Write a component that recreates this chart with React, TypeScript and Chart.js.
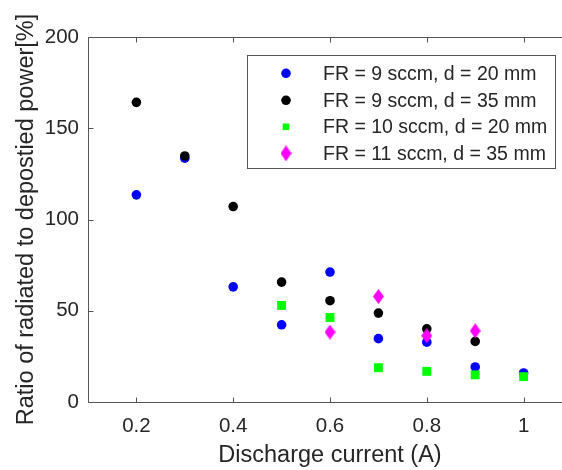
import React, { useEffect, useRef } from 'react';
import { Chart, registerables } from 'chart.js';

Chart.register(...registerables);

// ---- data ----
const seriesLabels = [
  'FR = 9 sccm, d = 20 mm',
  'FR = 9 sccm, d = 35 mm',
  'FR = 10 sccm, d = 20 mm',
  'FR = 11 sccm, d = 35 mm',
];
const xBlue = [0.2, 0.3, 0.4, 0.5, 0.6, 0.7, 0.8, 0.9, 1.0];
const yBlue = [113.5, 133.6, 63.1, 42.3, 71.2, 34.7, 32.8, 19.2, 15.9];
const xBlack = [0.2, 0.3, 0.4, 0.5, 0.6, 0.7, 0.8, 0.9];
const yBlack = [164.2, 134.8, 107.1, 65.7, 55.5, 48.7, 40.1, 33.2];
const xGreen = [0.5, 0.6, 0.7, 0.8, 0.9, 1.0];
const yGreen = [52.9, 46.3, 18.8, 16.8, 14.9, 13.9];
const xMagenta = [0.6, 0.7, 0.8, 0.9];
const yMagenta = [38.3, 57.8, 36.3, 39.0];
const xTickValues = [0.2, 0.4, 0.6, 0.8, 1];
const yTickValues = [0, 50, 100, 150, 200];
const xTitle = 'Discharge current (A)';
const yTitle = 'Ratio of radiated to depostied power[%]';

const W = 580;
const H = 470;
const FONT = "'Liberation Sans', Arial, Helvetica, sans-serif";
const TEXT = '#262626';
const AXIS = '#555555';

function pts(xs: number[], ys: number[]) {
  return xs.map((x, i) => ({ x, y: ys[i] }));
}

function makeDiamond(): HTMLCanvasElement {
  const c = document.createElement('canvas');
  c.width = 11;
  c.height = 15;
  const g = c.getContext('2d')!;
  g.fillStyle = '#ff00ff';
  g.beginPath();
  g.moveTo(5.5, 0);
  g.lineTo(11, 7.5);
  g.lineTo(5.5, 15);
  g.lineTo(0, 7.5);
  g.closePath();
  g.fill();
  return c;
}

export default function App() {
  const ref = useRef<HTMLCanvasElement>(null);

  useEffect(() => {
    document.documentElement.style.overflow = 'hidden';
    document.body.style.margin = '0';
    document.body.style.overflow = 'hidden';
    const diamond = makeDiamond();

    const framePlugin = {
      id: 'frame',
      beforeDatasetsDraw(chart: any) {
        const { ctx, chartArea } = chart;
        const xs = chart.scales.x;
        const ys = chart.scales.y;
        const L = Math.round(chartArea.left) + 0.5;
        const R = Math.round(chartArea.right) + 0.5;
        const T = Math.round(chartArea.top) + 0.5;
        const B = Math.round(chartArea.bottom) + 0.5;
        ctx.save();
        ctx.strokeStyle = AXIS;
        ctx.lineWidth = 1;
        ctx.beginPath();
        ctx.moveTo(L, T);
        ctx.lineTo(R, T);
        ctx.lineTo(R, B);
        ctx.lineTo(L, B);
        ctx.closePath();
        const tl = 5;
        xTickValues.forEach((v) => {
          const px = Math.round(xs.getPixelForValue(v)) + 0.5;
          ctx.moveTo(px, B);
          ctx.lineTo(px, B - tl);
          ctx.moveTo(px, T);
          ctx.lineTo(px, T + tl);
        });
        yTickValues.forEach((v) => {
          const py = Math.round(ys.getPixelForValue(v)) + 0.5;
          ctx.moveTo(L, py);
          ctx.lineTo(L + tl, py);
          ctx.moveTo(R, py);
          ctx.lineTo(R - tl, py);
        });
        ctx.stroke();
        ctx.restore();
      },
    };

    const legendPlugin = {
      id: 'customLegend',
      afterDraw(chart: any) {
        const { ctx } = chart;
        const bx = 247.5, by = 55.5, bw = 308, bh = 113;
        ctx.save();
        ctx.fillStyle = '#ffffff';
        ctx.fillRect(bx, by, bw, bh);
        ctx.strokeStyle = AXIS;
        ctx.lineWidth = 1;
        ctx.strokeRect(bx, by, bw, bh);
        const rows = [73.3, 100.3, 126.8, 153.3];
        const mx = 286;
        const tx = 323;
        ctx.font = `19.5px ${FONT}`;
        ctx.textBaseline = 'middle';
        ctx.textAlign = 'left';
        rows.forEach((ry, i) => {
          if (i === 0 || i === 1) {
            ctx.fillStyle = i === 0 ? '#0000ff' : '#000000';
            ctx.beginPath();
            ctx.arc(mx, ry, 4.8, 0, Math.PI * 2);
            ctx.fill();
          } else if (i === 2) {
            ctx.fillStyle = '#00ff00';
            ctx.fillRect(mx - 3.3, ry - 3.3, 6.6, 6.6);
          } else {
            ctx.drawImage(diamond, mx - 5.5, ry - 8, 11, 16);
          }
          ctx.fillStyle = TEXT;
          ctx.fillText(seriesLabels[i], tx, ry + 1);
        });
        ctx.restore();
      },
    };

    const chart = new Chart(ref.current!, {
      type: 'scatter',
      data: {
        datasets: [
          {
            label: seriesLabels[0],
            data: pts(xBlue, yBlue),
            backgroundColor: '#0000ff',
            borderColor: '#0000ff',
            borderWidth: 0,
            pointRadius: 4.8,
            pointStyle: 'circle',
            order: 3,
          },
          {
            label: seriesLabels[1],
            data: pts(xBlack, yBlack),
            backgroundColor: '#000000',
            borderColor: '#000000',
            borderWidth: 0,
            pointRadius: 4.8,
            pointStyle: 'circle',
            order: 2,
          },
          {
            label: seriesLabels[2],
            data: pts(xGreen, yGreen),
            backgroundColor: '#00ff00',
            borderColor: '#00ff00',
            borderWidth: 0,
            pointRadius: 6.3,
            pointStyle: 'rect',
            order: 1,
          },
          {
            label: seriesLabels[3],
            data: pts(xMagenta, yMagenta),
            backgroundColor: '#ff00ff',
            borderColor: '#ff00ff',
            borderWidth: 0,
            pointRadius: 7,
            pointStyle: diamond as any,
            order: 0,
          },
        ],
      },
      options: {
        animation: false,
        responsive: false,
        devicePixelRatio: 1,
        layout: { padding: { top: 37, left: 0, right: W - 572, bottom: 0 } },
        plugins: {
          legend: { display: false },
          tooltip: { enabled: false },
        },
        scales: {
          x: {
            type: 'linear',
            min: 0.1,
            max: 1.1,
            afterBuildTicks: (s: any) => {
              s.ticks = xTickValues.map((v) => ({ value: v }));
            },
            afterFit: (s: any) => {
              s.height = H - 402;
            },
            grid: { display: false, drawTicks: false },
            border: { display: false },
            ticks: {
              autoSkip: false,
              maxRotation: 0,
              padding: 12,
              color: TEXT,
              font: { family: FONT, size: 20.5 },
              callback: (v: any) => String(v),
            },
            title: {
              display: true,
              text: xTitle,
              color: TEXT,
              font: { family: FONT, size: 23.5 },
              padding: { top: 0, bottom: 0 },
            },
          },
          y: {
            type: 'linear',
            min: 0,
            max: 200,
            afterBuildTicks: (s: any) => {
              s.ticks = yTickValues.map((v) => ({ value: v }));
            },
            afterFit: (s: any) => {
              s.width = 88;
            },
            grid: { display: false, drawTicks: false },
            border: { display: false },
            ticks: {
              padding: 9,
              color: TEXT,
              font: { family: FONT, size: 20.5 },
              callback: (v: any) => String(v),
            },
            title: {
              display: true,
              text: yTitle,
              color: TEXT,
              font: { family: FONT, size: 23.5 },
              padding: { top: 12, bottom: 0 },
            },
          },
        },
      },
      plugins: [framePlugin, legendPlugin],
    });
    return () => chart.destroy();
  }, []);

  return (
    <div style={{ position: 'fixed', left: 0, top: 0, width: W, height: H, background: '#fff' }}>
      <canvas ref={ref} width={W} height={H} style={{ display: 'block', width: W, height: H }} />
    </div>
  );
}
